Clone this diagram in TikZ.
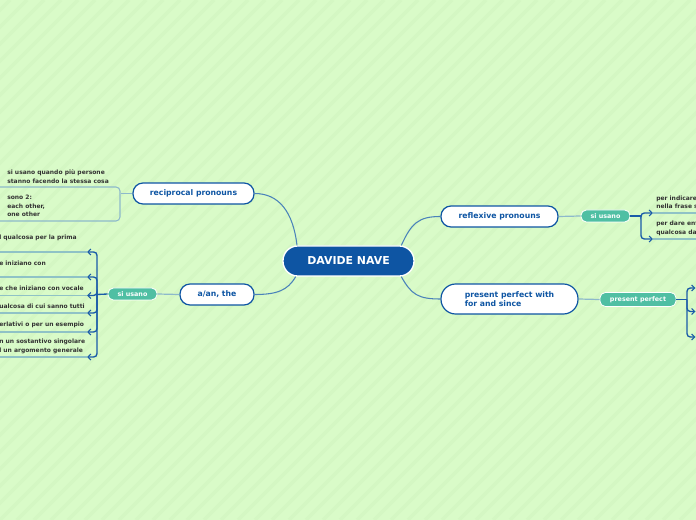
\documentclass[tikz,border=0pt]{standalone}
\usepackage{fontspec}
\setmainfont{DejaVu Sans}
\usetikzlibrary{arrows.meta}
\definecolor{bgc}{HTML}{D9FBC8}
\definecolor{stripec}{HTML}{D4F7C3}
\definecolor{mblue}{HTML}{0E55A3}
\definecolor{connc}{HTML}{4A82BA}
\definecolor{lightc}{HTML}{8DB9CB}
\definecolor{pillc}{HTML}{4FBFA3}
\definecolor{bblue}{HTML}{1A5BA8}
\definecolor{ulc}{HTML}{8FC2C6}
\definecolor{leaftext}{HTML}{333333}
\begin{document}
\begin{tikzpicture}[x=0.75pt,y=-0.75pt,
 mainbox/.style={draw=mblue,fill=white,line width=0.9pt,rounded corners=7.5pt,minimum height=15.75pt,font=\bfseries\fontsize{5.8}{6.7}\selectfont,text=mblue,inner sep=0pt},
 pill/.style={draw=white,fill=pillc,line width=0.6pt,rounded corners=4pt,minimum height=9pt,font=\bfseries\fontsize{4.8}{5.6}\selectfont,text=white,inner sep=0pt},
 leaf/.style={font=\bfseries\fontsize{4.5}{6.3}\selectfont,text=leaftext,align=left,inner sep=0pt,anchor=west},
 conn/.style={draw=connc,line width=0.8pt},
 lconn/.style={draw=lightc,line width=0.9pt},
 brk/.style={draw=bblue,line width=1pt,rounded corners=2.5pt},
 tipped/.style={-{Straight Barb[length=2.4pt,width=4.5pt,line width=0.8pt]}},
 uline/.style={draw=ulc,line width=0.9pt}]
\useasboundingbox (0,0) rectangle (696,520);
\clip (0,0) rectangle (696,520);
\fill[bgc] (0,0) rectangle (696,520);
\foreach \i in {-32,...,42} {\draw[stripec,line width=2.5pt] (\i*17,520) -- (\i*17+520,0);}

% main nodes
\node[draw=white,fill=mblue,line width=1pt,rounded corners=11pt,minimum width=98.25pt,minimum height=22.5pt,text=white,inner sep=0pt,font=\bfseries\fontsize{8.2}{9}\selectfont] (root) at (348.5,261) {DAVIDE NAVE};
\node[mainbox,minimum width=90.75pt] (recip) at (193.5,193.5) {reciprocal pronouns};
\node[mainbox,minimum width=55.5pt] (aan) at (217,294.5) {a/an, the};
\node[mainbox,minimum width=87.75pt] (refl) at (499.5,216.5) {reflexive pronouns};
\node[mainbox,minimum width=102.75pt,minimum height=22.5pt,rounded corners=11pt,align=left] (pp) at (509.5,299) {present perfect with\\for and since};

% pills
\node[pill,minimum width=36.75pt] (su1) at (132.5,294) {si usano};
\node[pill,minimum width=36.75pt] (su2) at (605.5,216) {si usano};
\node[pill,minimum width=57pt,minimum height=10.5pt] (ppp) at (638,299.5) {present perfect};

% root connectors
\draw[conn] ([xshift=11pt]root.north west) .. controls +(-4,-34) and +(24,0) .. (recip.east);
\draw[conn] ([xshift=10pt]root.south west) .. controls +(-8,14) and +(22,0) .. (aan.east);
\draw[conn] ([xshift=-10pt]root.north east) .. controls +(10,-22) and +(-22,0) .. (refl.west);
\draw[conn] ([xshift=-10pt]root.south east) .. controls +(10,18) and +(-22,0) .. (pp.west);

% reciprocal children
\node[draw=lightc,line width=0.8pt,rounded corners=3pt,minimum width=97.5pt,minimum height=25.5pt,inner sep=0pt] (grp) at (55,204) {};
\draw[lconn] (recip.west) -- (recip.west -| grp.east);
\node[leaf] (r1) at (7,176.5) {si usano quando più persone\\stanno facendo la stessa cosa};
\node[leaf] (r2) at (7,206) {sono 2:\\each other,\\one other};

% light connectors to pills
\draw[lconn] (aan.west) -- (su1.east);
\draw[lconn] (refl.east) -- (su2.west);
\draw[lconn] (pp.east) -- (ppp.west);

% left bracket
\coordinate (j1) at (97,294.5);
\draw[brk] (su1.west) -- (j1);
\foreach \n/\y in {1/252,2/277,3/295.5,4/313,5/332,6/357} {
  \coordinate (a\n) at (87,\y);
  \draw[brk,tipped] (j1) |- (a\n);
  \draw[uline] (a\n) -- ++(-95,0);
}
\node[leaf] (l1) at (-1,237.5) {l qualcosa per la prima};
\node[leaf] (l2) at (-1,263) {e iniziano con};
\node[leaf] (l3) at (-1,288.5) {e che iniziano con vocale};
\node[leaf] (l4) at (-1,306.5) {ualcosa di cui sanno tutti};
\node[leaf] (l5) at (-1,324.5) {erlativi o per un esempio};
\node[leaf] (l6) at (-1,346.5) {n un sostantivo singolare\\l un argomento generale};

% right bracket (reflexive)
\coordinate (j2) at (641,216);
\draw[brk] (su2.east) -- (j2);
\foreach \n/\y in {1/213,2/239} {
  \coordinate (b\n) at (653,\y);
  \draw[brk,tipped] (j2) |- (b\n);
  \draw[uline] (b\n) -- ++(60,0);
}
\node[leaf] (f1) at (656,202.5) {per indicare\\nella frase s};
\node[leaf] (f2) at (656,228.5) {per dare enf\\qualcosa da};

% right bracket (present perfect)
\coordinate (j3) at (687,299.5);
\draw[brk] (ppp.east) -- (j3);
\foreach \n/\y in {1/288,2/311.5,3/337} {
  \coordinate (c\n) at (695.5,\y);
  \draw[brk,tipped] (j3) |- (c\n);
}
\end{tikzpicture}
\end{document}
